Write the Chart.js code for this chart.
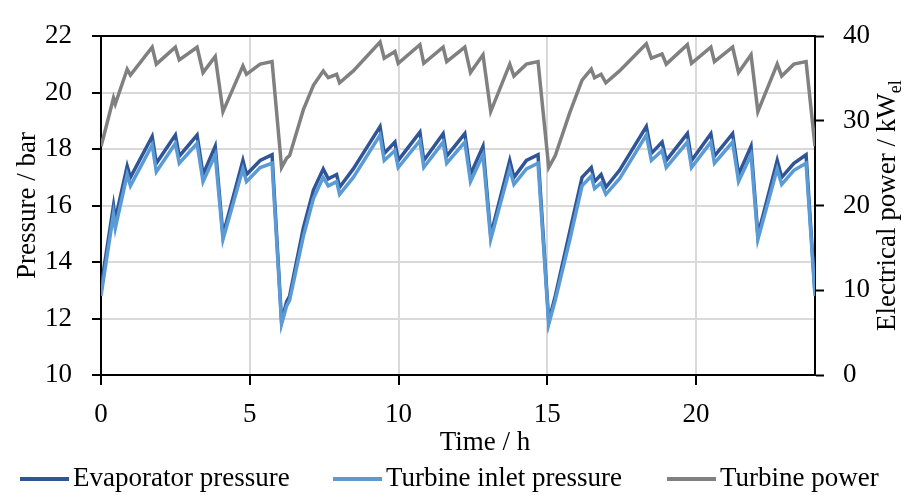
<!DOCTYPE html>
<html>
<head>
<meta charset="utf-8">
<script src="https://cdn.jsdelivr.net/npm/chart.js@4/dist/chart.umd.min.js"></script>
<style>
  html, body { margin: 0; padding: 0; background: #fff; }
  #wrap { width: 908px; height: 495px; }
</style>
</head>
<body>
<div id="wrap"><canvas id="myChart"></canvas></div>
<script>
// time in hours
const hours = [
  0, 0.1, 0.42, 0.48, 0.88, 0.99, 1.72, 1.86, 2.5, 2.63,
  3.23, 3.43, 3.84, 4.1, 4.77, 4.89, 5.35, 5.75, 6.07, 6.24,
  6.34, 6.8, 7.14, 7.47, 7.64, 7.92, 8.02, 8.48, 9.38, 9.52,
  9.88, 9.99, 10.72, 10.85, 11.5, 11.62, 12.23, 12.42, 12.84, 13.1,
  13.74, 13.88, 14.3, 14.69, 15.05, 15.27, 15.76, 16.17, 16.48, 16.59,
  16.81, 16.97, 17.43, 18.33, 18.5, 18.86, 19.0, 19.71, 19.85, 20.5,
  20.62, 21.23, 21.43, 21.85, 22.08, 22.73, 22.88, 23.29, 23.7, 24.0
];
// bar
const evaporatorPressure = [
  12.9, 13.8, 16.0, 15.5, 17.4, 17.0, 18.45, 17.5, 18.5, 17.75,
  18.5, 17.1, 18.1, 14.95, 17.6, 17.1, 17.6, 17.8, 11.9, 12.6,
  12.8, 15.2, 16.55, 17.3, 16.95, 17.1, 16.65, 17.3, 18.8, 17.85,
  18.25, 17.6, 18.6, 17.6, 18.55, 17.75, 18.55, 17.1, 18.1, 14.95,
  17.6, 17.0, 17.6, 17.8, 11.9, 12.8, 15.1, 17.0, 17.35, 16.85,
  17.1, 16.65, 17.25, 18.8, 17.85, 18.25, 17.6, 18.55, 17.6, 18.55,
  17.75, 18.55, 17.1, 18.1, 14.95, 17.6, 17.0, 17.5, 17.8, 12.9
];
const turbineInletPressure = [
  12.8, 13.5, 15.7, 15.2, 17.1, 16.7, 18.15, 17.2, 18.2, 17.5,
  18.2, 16.85, 17.8, 14.8, 17.3, 16.85, 17.35, 17.5, 11.8, 12.45,
  12.65, 14.9, 16.25, 17.0, 16.7, 16.85, 16.4, 17.0, 18.5, 17.6,
  17.95, 17.35, 18.3, 17.35, 18.25, 17.5, 18.25, 16.85, 17.8, 14.8,
  17.3, 16.75, 17.3, 17.5, 11.8, 12.65, 14.8, 16.7, 17.05, 16.6,
  16.8, 16.4, 16.95, 18.5, 17.6, 17.95, 17.35, 18.25, 17.35, 18.25,
  17.5, 18.25, 16.85, 17.8, 14.8, 17.3, 16.75, 17.25, 17.5, 12.8
];
// kW_el
const turbinePower = [
  27.0, 28.3, 32.7, 32.0, 36.1, 35.4, 38.7, 36.7, 38.7, 37.2,
  38.7, 35.7, 37.6, 31.1, 36.5, 35.5, 36.7, 37.0, 24.5, 25.6,
  25.9, 31.3, 34.2, 35.9, 35.1, 35.5, 34.5, 35.9, 39.3, 37.4,
  38.2, 36.8, 39.0, 36.8, 38.7, 37.0, 38.7, 35.7, 37.8, 31.1,
  36.7, 35.3, 36.7, 37.0, 24.5, 25.9, 31.0, 34.8, 36.1, 35.1,
  35.5, 34.5, 35.9, 39.1, 37.4, 37.9, 36.7, 39.0, 36.8, 38.7,
  37.0, 38.7, 35.7, 37.8, 31.1, 36.7, 35.3, 36.7, 37.0, 27.0
];

const seriesNames = ['Evaporator pressure', 'Turbine inlet pressure', 'Turbine power'];
const seriesColors = ['#2F5597', '#5B9BD5', '#808080'];
const xTicks = [0, 5, 10, 15, 20];

const FONT_FAMILY = '"Liberation Serif", "Times New Roman", serif';
const FONT_SIZE = 27;

const pts = vals => hours.map((h, i) => ({ x: h, y: vals[i] }));

// axis titles + legend, placed like the Excel original
const decor = {
  id: 'decor',
  afterDraw(chart) {
    const c = chart.ctx;
    const area = chart.chartArea;
    const mid = (area.top + area.bottom) / 2;
    c.save();
    c.fillStyle = '#000';
    c.font = FONT_SIZE + 'px ' + FONT_FAMILY;
    c.textBaseline = 'middle';
    c.textAlign = 'center';

    c.fillText('Time / h', 485, 443);

    c.save();
    c.translate(28, mid);
    c.rotate(-Math.PI / 2);
    c.fillText('Pressure / bar', 0, 0);
    c.restore();

    // right title with subscript
    const main = 'Electrical power / kW';
    const sub = 'el';
    const subFont = Math.round(FONT_SIZE * 0.65) + 'px ' + FONT_FAMILY;
    const w1 = c.measureText(main).width;
    c.font = subFont;
    const w2 = c.measureText(sub).width;
    c.save();
    c.translate(888, mid);
    c.rotate(-Math.PI / 2);
    c.textAlign = 'left';
    c.font = FONT_SIZE + 'px ' + FONT_FAMILY;
    c.fillText(main, -(w1 + w2) / 2, 0);
    c.font = subFont;
    c.fillText(sub, -(w1 + w2) / 2 + w1, 8);
    c.restore();

    // legend
    c.font = FONT_SIZE + 'px ' + FONT_FAMILY;
    c.textAlign = 'left';
    const legendY = 479;
    const starts = [20, 333, 667];
    seriesNames.forEach((name, i) => {
      const x0 = starts[i];
      c.strokeStyle = seriesColors[i];
      c.lineWidth = 4;
      c.beginPath();
      c.moveTo(x0, legendY);
      c.lineTo(x0 + 49, legendY);
      c.stroke();
      c.fillText(name, x0 + 53, legendY);
    });
    c.restore();
  }
};

const ctx = document.getElementById('myChart').getContext('2d');
const myChart = new Chart(ctx, {
  type: 'line',
  data: {
    datasets: [{
      label: seriesNames[0],
      data: pts(evaporatorPressure),
      borderColor: seriesColors[0],
      yAxisID: 'y',
      order: 3
    }, {
      label: seriesNames[1],
      data: pts(turbineInletPressure),
      borderColor: seriesColors[1],
      yAxisID: 'y',
      order: 2
    }, {
      label: seriesNames[2],
      data: pts(turbinePower),
      borderColor: seriesColors[2],
      yAxisID: 'y2',
      order: 1
    }]
  },
  options: {
    responsive: true,
    maintainAspectRatio: false,
    animation: false,
    layout: { padding: { top: 24, left: 0, right: 0, bottom: 0 } },
    elements: {
      point: { radius: 0 },
      line: { borderWidth: 3.5, tension: 0, fill: false }
    },
    plugins: {
      legend: { display: false },
      tooltip: { enabled: false }
    },
    scales: {
      x: {
        type: 'linear',
        min: 0,
        max: 24,
        afterBuildTicks: s => { s.ticks = xTicks.map(v => ({ value: v })); },
        afterFit: s => { s.height = 120; },
        ticks: {
          color: '#000',
          padding: 14,
          maxRotation: 0,
          font: { family: FONT_FAMILY, size: FONT_SIZE }
        },
        grid: {
          color: c => (c.tick && c.tick.value === 0 ? '#000' : '#d9d9d9'),
          lineWidth: 2,
          tickColor: '#000',
          tickLength: 10,
          tickWidth: 2
        },
        border: { color: '#000', width: 2 }
      },
      y: {
        position: 'left',
        min: 10,
        max: 22,
        afterFit: s => { s.width = 101; },
        ticks: {
          stepSize: 2,
          color: '#000',
          padding: 20,
          font: { family: FONT_FAMILY, size: FONT_SIZE }
        },
        grid: {
          color: c => (c.tick && c.tick.value === 22 ? '#000' : '#d9d9d9'),
          lineWidth: 2,
          tickColor: '#000',
          tickLength: 9,
          tickWidth: 2
        },
        border: { color: '#000', width: 2 }
      },
      y2: {
        position: 'right',
        min: 0,
        max: 40,
        afterFit: s => { s.width = 93; },
        ticks: {
          stepSize: 10,
          color: '#000',
          padding: 19,
          font: { family: FONT_FAMILY, size: FONT_SIZE }
        },
        grid: {
          drawOnChartArea: false,
          tickColor: '#000',
          tickLength: 9,
          tickWidth: 2
        },
        border: { color: '#000', width: 2 }
      }
    }
  },
  plugins: [decor]
});
</script>
</body>
</html>
